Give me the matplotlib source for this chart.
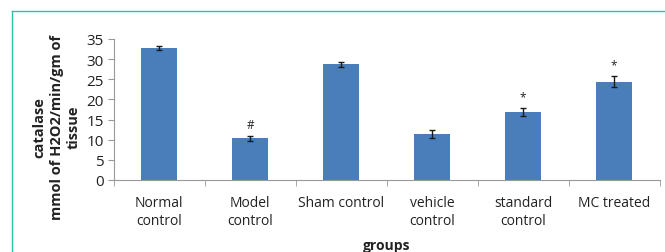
import numpy as np
import matplotlib.pyplot as plt
from matplotlib.lines import Line2D

groups = ['Normal\ncontrol', 'Model\ncontrol', 'Sham control', 'vehicle\ncontrol',
          'standard\ncontrol', 'MC treated']
catalase = [32.7, 10.3, 28.7, 11.4, 16.8, 24.4]
sem = [0.5, 0.7, 0.7, 0.9, 1.0, 1.4]
marks = ['', '#', '', '', '*', '*']

plt.rcParams['font.family'] = ['Open Sans', 'DejaVu Sans']

fig = plt.figure(figsize=(6.65, 2.53), dpi=100)
ax = fig.add_axes([0.171, 0.285, 0.821, 0.557])

x = np.arange(len(groups))
ax.bar(x, catalase, width=0.4, color='#4a7ebb', yerr=sem, capsize=2.5,
       error_kw=dict(ecolor='#1a1a1a', elinewidth=1, capthick=1))

for xi, v, e, m in zip(x, catalase, sem, marks):
    if m:
        ax.text(xi, v + e + 1.2, m, ha='center', va='bottom', fontsize=8.5, color='#222222')

ax.set_xlim(-0.5, len(groups) - 0.5)
ax.set_ylim(0, 35)
ax.set_yticks(np.arange(0, 36, 5))
ax.set_xticks(x)
ax.set_xticklabels(groups, fontsize=10, color='#222222', linespacing=1.25)
ax.set_xticks(np.arange(-0.5, len(groups), 1), minor=True)
ax.tick_params(axis='x', which='major', length=0, pad=11)
ax.tick_params(axis='x', which='minor', length=4, color='#999999')
ax.tick_params(axis='y', length=4, color='#999999', labelsize=11, labelcolor='#222222', pad=3)

for s in ['top', 'right']:
    ax.spines[s].set_visible(False)
ax.spines['left'].set_color('#999999')
ax.spines['bottom'].set_color('#999999')

ax.set_ylabel('catalase\nmmol of H2O2/min/gm of\ntissue', fontsize=10.5, fontweight='bold',
              color='#222222', linespacing=1.3)
ax.yaxis.set_label_coords(-0.06, 0.38)
ax.set_xlabel('groups', fontsize=10, fontweight='bold', color='#222222')
ax.xaxis.set_label_coords(0.5, -0.41)

# teal frame around the figure
fig.add_artist(Line2D([12 / 665, 1], [1 - 12 / 253, 1 - 12 / 253], color='#2ec4a6', lw=1))
fig.add_artist(Line2D([12 / 665, 12 / 665], [0, 1 - 12 / 253], color='#2ec4a6', lw=1))

fig.savefig('out.png', dpi=100)
